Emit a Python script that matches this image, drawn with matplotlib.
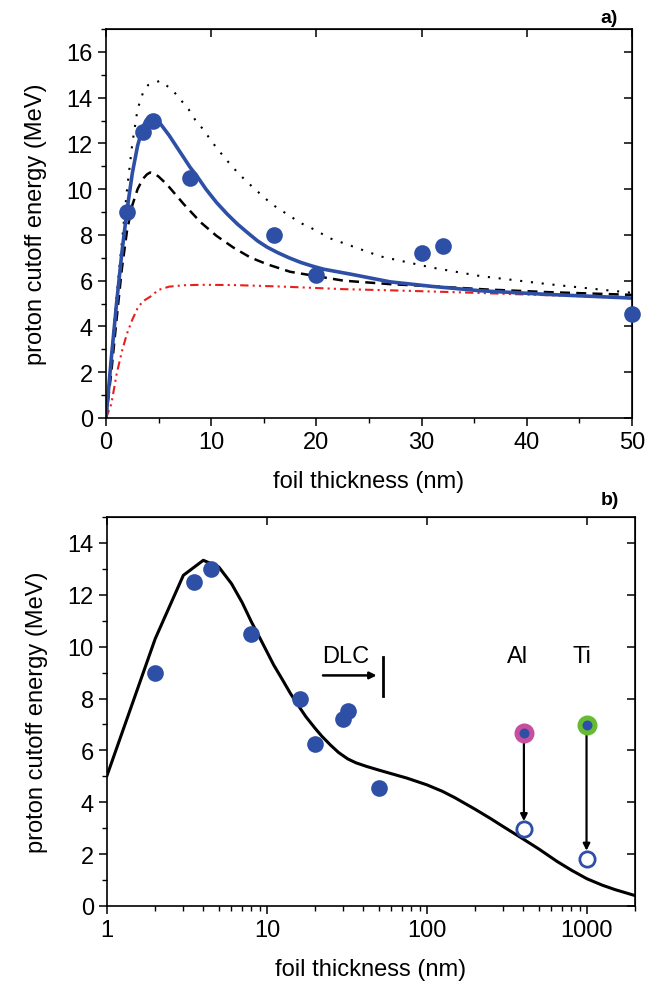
import matplotlib
matplotlib.use("Agg")
import matplotlib.pyplot as plt
from matplotlib.ticker import MultipleLocator, NullFormatter, FuncFormatter

plt.rcParams["font.family"] = ["Liberation Sans", "DejaVu Sans"]

# measured points (both panels)
thick = [2, 3.5, 4.5, 8, 16, 20, 30, 32, 50]
energy = [9.0, 12.5, 13.0, 10.5, 8.0, 6.25, 7.2, 7.5, 4.55]

# panel a) model curves
t_solid = [0, 0.5, 1, 1.5, 2, 2.5, 3, 3.5, 3.8, 4.1, 4.4, 4.7, 5.1, 6, 7, 8, 8.6, 9.5, 10.5, 11.5, 12.5, 13.5, 14.4, 15.3, 16.3, 17.4, 18.5, 19.6, 20.7, 23.2, 27, 31, 35.6, 42, 50]
e_solid = [0, 2.6, 5.0, 7.2, 9.1, 10.7, 11.9, 12.7, 13.0, 13.17, 13.2, 13.12, 12.9, 12.35, 11.65, 10.95, 10.6, 10.0, 9.42, 8.92, 8.47, 8.08, 7.74, 7.47, 7.23, 7.0, 6.8, 6.64, 6.5, 6.29, 5.95, 5.75, 5.56, 5.4, 5.24]

t_dash = [0, 0.5, 1, 1.5, 2, 2.5, 3, 3.5, 3.9, 4.2, 4.6, 5, 5.8, 7.4, 9, 10.5, 12.1, 13.7, 15.3, 17.5, 20.1, 22.6, 27, 32, 36, 42, 50]
e_dash = [0, 2.0, 4.3, 6.5, 8.2, 9.3, 10.0, 10.45, 10.65, 10.73, 10.68, 10.55, 10.2, 9.34, 8.55, 7.96, 7.45, 7.02, 6.72, 6.39, 6.19, 6.0, 5.85, 5.73, 5.62, 5.5, 5.38]

t_dot = [0, 1, 2, 2.5, 3, 3.5, 4, 5.1, 6.25, 7.05, 7.85, 8.5, 9.3, 10, 10.8, 11.6, 12.5, 13.4, 14.4, 15.4, 16.3, 17.4, 18.4, 19.4, 20.4, 21.3, 22.4, 26.1, 30.9, 35.6, 42, 50]
e_dot = [0, 5.3, 10.0, 12.0, 13.5, 14.2, 14.55, 14.73, 14.37, 13.93, 13.49, 13.01, 12.58, 12.11, 11.64, 11.2, 10.73, 10.32, 9.9, 9.49, 9.17, 8.86, 8.54, 8.33, 8.08, 7.85, 7.67, 7.06, 6.58, 6.2, 5.85, 5.47]

t_red = [0, 0.5, 1, 1.5, 2, 2.5, 3, 3.5, 4.2, 5, 6, 7.4, 9, 12.1, 16.9, 22.6, 27, 33, 39, 45, 50]
e_red = [0, 0.6, 1.9, 2.9, 3.7, 4.3, 4.8, 5.1, 5.3, 5.6, 5.74, 5.8, 5.82, 5.81, 5.74, 5.63, 5.58, 5.5, 5.41, 5.32, 5.23]

# panel b) simulation curve
t_sim = [1, 2, 3, 4, 5, 6, 7, 8, 9, 10, 11, 12.4, 14, 15.7, 17.5, 20, 22, 25, 28, 32, 36, 42, 50, 60, 75, 100,
         125, 150, 200, 250, 300, 400, 500, 650, 800, 1000, 1250, 1500, 2000]
e_sim = [5.03, 10.3, 12.75, 13.33, 13.07, 12.43, 11.7, 10.95, 10.35, 9.8, 9.3, 8.76, 8.2, 7.73, 7.3, 6.85, 6.55, 6.2, 5.92, 5.67, 5.52, 5.38, 5.24, 5.1, 4.93, 4.67,
         4.42, 4.17, 3.73, 3.37, 3.06, 2.58, 2.2, 1.72, 1.38, 1.05, 0.8, 0.63, 0.4]

# Al and Ti foils: before (filled) and after (open)
al_t, al_before, al_after = 404, 6.68, 2.97
ti_t, ti_before, ti_after = 995, 6.99, 1.81

blue = "#2e4fa6"
fs = 17


def style_axes(ax):
    for s in ax.spines.values():
        s.set_linewidth(1.2)
    ax.tick_params(which="major", direction="out", length=6, width=1.1, labelsize=fs)
    ax.tick_params(which="minor", direction="out", length=3.5, width=1.0)
    sx = ax.secondary_xaxis("top")
    sy = ax.secondary_yaxis("right")
    sx.set_xticks(ax.get_xticks())
    sy.set_yticks(ax.get_yticks())
    sx.set_xticklabels([])
    sy.set_yticklabels([])
    for s in (sx, sy):
        s.minorticks_off()
        s.tick_params(direction="in", length=6, width=1.1)
    ax.set_ylabel("proton cutoff energy (MeV)", fontsize=fs, labelpad=14)
    ax.set_xlabel("foil thickness (nm)", fontsize=fs, labelpad=12)


fig = plt.figure(figsize=(6.61, 9.87), dpi=100)

# ---- a) linear
ax1 = fig.add_axes([0.1604, 0.5755, 0.7958, 0.3941])
ax1.plot(t_dot, e_dot, color="black", lw=1.5, ls=(0, (1, 4.2)))
ax1.plot(t_red, e_red, color="#e8201c", lw=1.5, ls=(0, (4, 2, 1, 2, 1, 2)))
ax1.plot(t_dash, e_dash, color="black", lw=1.8, ls=(0, (4, 2.5)))
ax1.plot(t_solid, e_solid, color=blue, lw=2.6, solid_joinstyle="round")
ax1.plot(thick, energy, "o", color=blue, ms=12, mew=0, clip_on=False, zorder=5)
ax1.set_xlim(0, 50)
ax1.set_ylim(0, 17)
ax1.set_xticks(range(0, 51, 10))
ax1.set_yticks(range(0, 17, 2))
ax1.xaxis.set_minor_locator(MultipleLocator(5))
ax1.yaxis.set_minor_locator(MultipleLocator(1))
style_axes(ax1)
fig.text(0.935, 0.977, "a)", ha="right", va="baseline", fontsize=14, weight="bold")

# ---- b) log
ax2 = fig.add_axes([0.1619, 0.0811, 0.7988, 0.3941])
ax2.set_xscale("log")
ax2.plot(t_sim, e_sim, color="black", lw=2.2, solid_joinstyle="round")
ax2.plot(thick, energy, "o", color=blue, ms=12, mew=0, zorder=5)
ax2.plot([al_t], [al_before], "o", mfc=blue, mec="#c64f9e", ms=10.8, mew=3.6, zorder=6)
ax2.plot([ti_t], [ti_before], "o", mfc=blue, mec="#66bb33", ms=10.8, mew=3.6, zorder=6)
ax2.plot([al_t, ti_t], [al_after, ti_after], "o", mfc="white", mec=blue, ms=11, mew=2, zorder=6)
for xt, y0, y1 in [(al_t, al_before, al_after + 0.3), (ti_t, ti_before, ti_after + 0.32)]:
    ax2.annotate("", xy=(xt, y1), xytext=(xt, y0),
                 arrowprops=dict(arrowstyle="-|>", color="black", lw=1.6, mutation_scale=10,
                                 shrinkA=0, shrinkB=0), zorder=4)
ax2.annotate("", xy=(48.5, 8.89), xytext=(22.4, 8.89),
             arrowprops=dict(arrowstyle="-|>", color="black", lw=1.8, mutation_scale=10,
                             shrinkA=0, shrinkB=0))
ax2.plot([53, 53], [8.1, 9.6], color="black", lw=2)
ax2.text(31.2, 9.2, "DLC", ha="center", va="bottom", fontsize=fs)
ax2.text(370, 9.2, "Al", ha="center", va="bottom", fontsize=fs)
ax2.text(930, 9.2, "Ti", ha="center", va="bottom", fontsize=fs)
ax2.set_xlim(1, 2000)
ax2.set_ylim(0, 15)
ax2.set_xticks([1, 10, 100, 1000])
ax2.xaxis.set_major_formatter(FuncFormatter(lambda v, p: "%d" % v))
ax2.xaxis.set_minor_formatter(NullFormatter())
ax2.set_yticks(range(0, 15, 2))
ax2.yaxis.set_minor_locator(MultipleLocator(1))
style_axes(ax2)
fig.text(0.936, 0.4883, "b)", ha="right", va="baseline", fontsize=14, weight="bold")

fig.savefig("out.png", dpi=100)
